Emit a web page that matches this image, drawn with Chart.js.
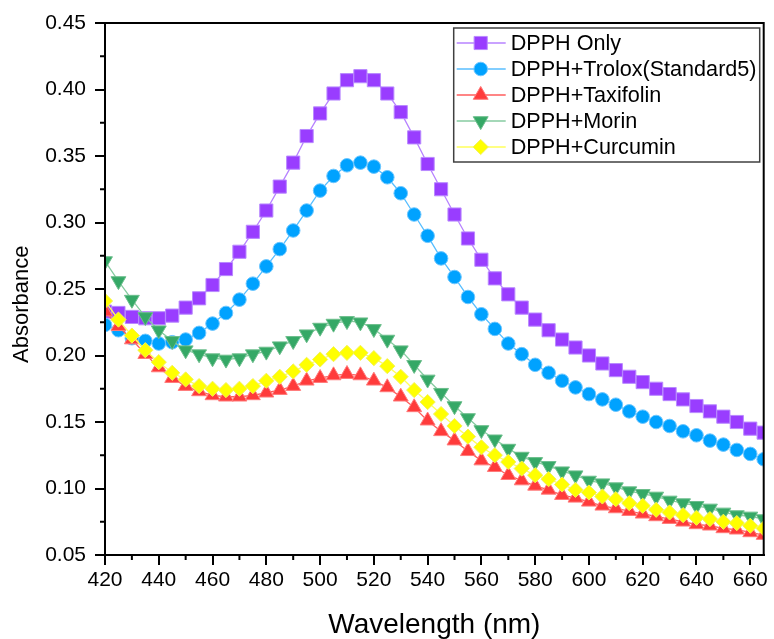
<!DOCTYPE html>
<html>
<head>
<meta charset="utf-8">
<title>DPPH Absorbance</title>
<script src="https://cdn.jsdelivr.net/npm/chart.js@4.4.1/dist/chart.umd.min.js"></script>
<style>
body{margin:0;background:#fff;}
#wrap{width:774px;height:639px;}
</style>
</head>
<body>
<div id="wrap"><canvas id="canvasG1" width="774" height="639"></canvas></div>
<script>
//x축 파장 (nm)
var wavelength = [420,425,430,435,440,445,450,455,460,465,470,475,480,485,490,495,500,505,510,515,
                  520,525,530,535,540,545,550,555,560,565,570,575,580,585,590,595,600,605,610,615,
                  620,625,630,635,640,645,650,655,660,665];

//시리즈 값 (Absorbance)
var dpphOnly = [0.233,0.232,0.229,0.228,0.228,0.230,0.236,0.243,0.253,0.265,0.278,0.293,0.309,0.327,0.345,0.365,0.382,0.397,0.407,0.410,
                0.407,0.397,0.383,0.364,0.344,0.325,0.306,0.288,0.272,0.258,0.246,0.236,0.227,0.219,0.212,0.206,0.200,0.194,0.189,0.184,
                0.180,0.175,0.171,0.167,0.162,0.158,0.154,0.150,0.145,0.142];
var dpphTrolox = [0.223,0.219,0.213,0.211,0.209,0.210,0.212,0.217,0.224,0.232,0.242,0.254,0.267,0.280,0.294,0.309,0.324,0.335,0.343,0.345,
                  0.342,0.334,0.322,0.306,0.290,0.273,0.259,0.244,0.231,0.220,0.209,0.201,0.193,0.187,0.181,0.176,0.171,0.167,0.163,0.158,
                  0.154,0.150,0.147,0.143,0.140,0.136,0.133,0.129,0.126,0.122];
var dpphTaxifolin = [0.233,0.222,0.212,0.201,0.191,0.183,0.177,0.173,0.170,0.169,0.169,0.170,0.172,0.174,0.177,0.181,0.183,0.185,0.186,0.185,
                     0.181,0.176,0.169,0.161,0.151,0.143,0.136,0.128,0.121,0.116,0.110,0.106,0.102,0.099,0.095,0.093,0.090,0.087,0.085,0.083,
                     0.081,0.079,0.077,0.075,0.073,0.072,0.070,0.069,0.067,0.065];
var dpphMorin = [0.271,0.256,0.242,0.229,0.219,0.211,0.204,0.201,0.198,0.197,0.198,0.201,0.203,0.207,0.211,0.216,0.221,0.224,0.226,0.225,
                 0.220,0.212,0.204,0.193,0.182,0.172,0.162,0.153,0.144,0.137,0.130,0.124,0.120,0.117,0.113,0.110,0.106,0.104,0.101,0.098,
                 0.096,0.094,0.091,0.089,0.087,0.085,0.082,0.080,0.079,0.077];
var dpphCurcumin = [0.241,0.227,0.215,0.204,0.195,0.187,0.182,0.177,0.175,0.174,0.175,0.177,0.181,0.184,0.188,0.193,0.197,0.201,0.202,0.202,
                    0.198,0.192,0.184,0.174,0.165,0.156,0.147,0.139,0.131,0.125,0.120,0.115,0.110,0.107,0.103,0.099,0.097,0.094,0.092,0.089,
                    0.087,0.084,0.082,0.080,0.078,0.077,0.075,0.074,0.072,0.070];

var seriesNames = ["DPPH Only","DPPH+Trolox(Standard5)","DPPH+Taxifolin","DPPH+Morin","DPPH+Curcumin"];

//눈금
var xTickValues = [420,440,460,480,500,520,540,560,580,600,620,640,660];
var xMinorTicks = [430,450,470,490,510,530,550,570,590,610,630,650];
var yTickValues = [0.05,0.10,0.15,0.20,0.25,0.30,0.35,0.40,0.45];
var yMinorTicks = [0.075,0.125,0.175,0.225,0.275,0.325,0.375,0.425];

var FONT = '"Liberation Sans", Arial, sans-serif';

function toPoints(arr){
	var pts = [];
	for(var i=0;i<wavelength.length;i++){
		pts.push({x: wavelength[i], y: arr[i]});
	}
	return pts;
}

function makeDataset(name, arr, fill, line, edge, style, radius, rot, order){
	return {
		label: name,
		data: toPoints(arr),
		borderColor: line,
		borderWidth: 1.3,
		tension: 0,
		pointStyle: style,
		pointRadius: radius,
		pointRotation: rot,
		pointBackgroundColor: fill,
		pointBorderColor: edge,
		pointBorderWidth: 1,
		order: order
	};
}

//범례 (플롯 안쪽 박스)
function drawLegend(chart){
	var ctx = chart.ctx, ca = chart.chartArea;
	var bw = 306, bh = 134;
	var bx = ca.right - bw - 4, by = ca.top + 5;
	ctx.save();
	ctx.fillStyle = '#fff';
	ctx.fillRect(bx, by, bw, bh);
	ctx.strokeStyle = '#404040';
	ctx.lineWidth = 1.5;
	ctx.strokeRect(bx, by, bw, bh);
	ctx.font = '21.6px ' + FONT;
	ctx.textBaseline = 'middle';
	ctx.textAlign = 'left';
	var sets = chart.data.datasets;
	for(var i=0;i<sets.length;i++){
		var ds = sets[i];
		var ly = by + 15 + i*26;
		ctx.strokeStyle = ds.borderColor;
		ctx.lineWidth = 1.5;
		ctx.beginPath();
		ctx.moveTo(bx+3, ly);
		ctx.lineTo(bx+52, ly);
		ctx.stroke();
		ctx.fillStyle = ds.pointBackgroundColor;
		ctx.strokeStyle = ds.pointBorderColor;
		ctx.lineWidth = ds.pointBorderWidth;
		Chart.helpers.drawPoint(ctx, {pointStyle: ds.pointStyle, radius: ds.pointRadius, rotation: ds.pointRotation, borderWidth: ds.pointBorderWidth}, bx+27, ly);
		ctx.fillStyle = '#000';
		ctx.fillText(ds.label, bx+57, ly+1);
	}
	ctx.restore();
}

//테두리 + 보조눈금
var framePlugin = {
	id: 'frameG1',
	afterDraw: function(chart){
		var ctx = chart.ctx, ca = chart.chartArea;
		var xs = chart.scales.x, ys = chart.scales.y;
		ctx.save();
		ctx.strokeStyle = '#000';
		ctx.lineWidth = 2;
		ctx.strokeRect(ca.left, ca.top, ca.right - ca.left, ca.bottom - ca.top);
		ctx.beginPath();
		for(var i=0;i<xMinorTicks.length;i++){
			var px = xs.getPixelForValue(xMinorTicks[i]);
			ctx.moveTo(px, ca.bottom);
			ctx.lineTo(px, ca.bottom + 5);
		}
		for(var j=0;j<yMinorTicks.length;j++){
			var py = ys.getPixelForValue(yMinorTicks[j]);
			ctx.moveTo(ca.left, py);
			ctx.lineTo(ca.left - 5, py);
		}
		ctx.stroke();
		ctx.restore();
		drawLegend(chart);
	}
};

var ctx = document.getElementById('canvasG1').getContext('2d');
var myChartG1 = new Chart(ctx, {
	type: 'line',
	data: {
		datasets: [
			makeDataset(seriesNames[0], dpphOnly,      '#993DFF', '#B783FF', '#B98AFF', 'rect',     9.3, 0,   5),
			makeDataset(seriesNames[1], dpphTrolox,    '#00A2FF', '#58BEFF', '#6CC6FF', 'circle',   6.8, 0,   4),
			makeDataset(seriesNames[2], dpphTaxifolin, '#FF3B3B', '#FF5C5C', '#FF7A7A', 'triangle', 8.6, 0,   3),
			makeDataset(seriesNames[3], dpphMorin,     '#35A866', '#86CBA0', '#6CBE8C', 'triangle', 8.6, 180, 2),
			makeDataset(seriesNames[4], dpphCurcumin,  '#FFFF00', '#FFFF5A', '#F2F25A', 'rectRot',  7.6, 0,   1)
		]
	},
	options: {
		responsive: false,
		animation: false,
		layout: { padding: { left: 0, right: 6.5, top: 23, bottom: 0 } },
		plugins: {
			legend: { display: false },
			tooltip: { enabled: false }
		},
		scales: {
			x: {
				type: 'linear',
				min: 420,
				max: 665,
				afterFit: function(s){ s.height = 84; },
				afterBuildTicks: function(s){ s.ticks = xTickValues.map(function(v){ return {value: v}; }); },
				grid: { drawOnChartArea: false, drawTicks: true, tickLength: 10, color: '#000', lineWidth: 2 },
				border: { display: true, color: '#000', width: 2 },
				ticks: { color: '#000', font: { family: FONT, size: 21 }, padding: 3, autoSkip: false, maxRotation: 0,
					callback: function(v){ return String(v); } },
				title: { display: true, text: 'Wavelength (nm)', color: '#000',
					font: { family: FONT, size: 28, lineHeight: 1 }, padding: { top: 0, bottom: 0 } }
			},
			y: {
				type: 'linear',
				min: 0.05,
				max: 0.45,
				afterFit: function(s){ s.width = 105; },
				afterBuildTicks: function(s){ s.ticks = yTickValues.map(function(v){ return {value: v}; }); },
				grid: { drawOnChartArea: false, drawTicks: true, tickLength: 10, color: '#000', lineWidth: 2 },
				border: { display: true, color: '#000', width: 2 },
				ticks: { color: '#000', font: { family: FONT, size: 21 }, padding: 9,
					callback: function(v){ return Number(v).toFixed(2); } },
				title: { display: true, text: 'Absorbance     ', color: '#000',
					font: { family: FONT, size: 22, lineHeight: 1 }, padding: { top: 11, bottom: 0 } }
			}
		}
	},
	plugins: [framePlugin]
});
</script>
</body>
</html>
